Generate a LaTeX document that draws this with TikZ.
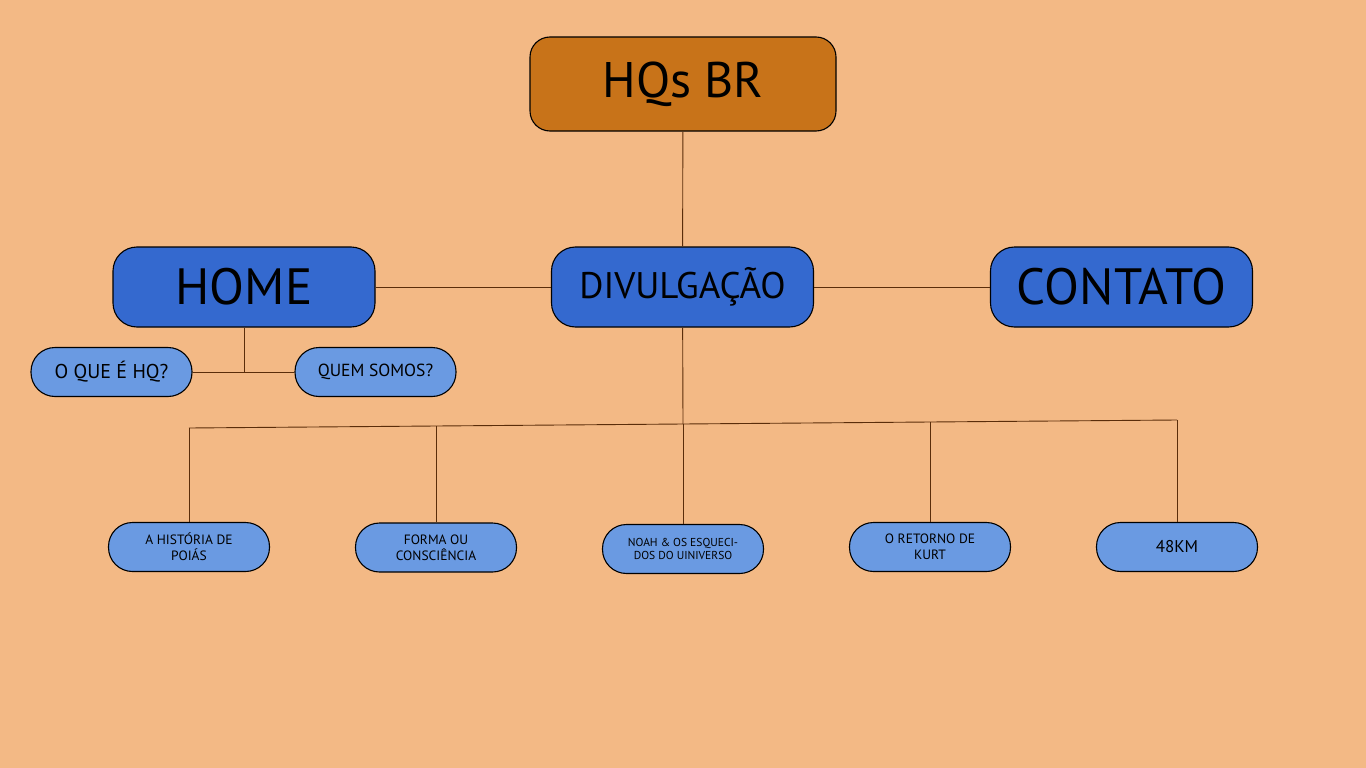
\documentclass[tikz,border=0pt]{standalone}
\usepackage{fontspec}
\setmainfont{PT Sans}
\usepackage{tikz}
\usetikzlibrary{calc}
\definecolor{bgorange}{HTML}{F3B985}
\definecolor{toporange}{HTML}{C87319}
\definecolor{darkblue}{HTML}{3469CF}
\definecolor{lightblue}{HTML}{6A9AE2}
\definecolor{linkbrown}{HTML}{5A2D0A}
\newcommand{\fs}[1]{\fontsize{#1}{1.2\dimexpr#1pt\relax}\selectfont}

\begin{document}
\begin{tikzpicture}[x=1pt, y=-1pt,
  box/.style={draw=black, line width=1.1pt, align=center, inner sep=0pt},
  root/.style={box, fill=toporange, rounded corners=20pt, minimum width=306pt, minimum height=94pt},
  menu/.style={box, fill=darkblue, rounded corners=24pt, minimum width=262pt, minimum height=80pt},
  sub/.style={box, fill=lightblue, rounded corners=24pt, minimum width=161pt, minimum height=49pt},
  link/.style={draw=linkbrown, line width=0.9pt}]
\fill[bgorange] (0,0) rectangle (1366,768);
\useasboundingbox (0,0) rectangle (1366,768);
\node[root, font=\fs{50}] (hqs)  at (683,84)     {HQs BR};
\node[menu, font=\fs{51}] (home) at (244,287)    {HOME};
\node[menu, font=\fs{37}] (div)  at (682.5,287)  {DIVULGAÇÃO};
\node[menu, font=\fs{51}] (cont) at (1121.5,287) {CONTATO};
\node[sub, font=\fs{20}]  (oque) at (111.5,372)  {O QUE É HQ?};
\node[sub, font=\fs{17.5}] (quem) at (375.5,372) {QUEM SOMOS?};
\node[sub, font=\fs{13.5}] (hist) at (189,547)   {A HISTÓRIA DE\\POIÁS};
\node[sub, font=\fs{13.5}] (forma) at (436,547.5) {FORMA OU\\CONSCIÊNCIA};
\node[sub, font=\fs{11.5}] (noah) at (683,549)   {NOAH \& OS ESQUECI-\\DOS DO UINIVERSO};
\node[sub, font=\fs{13.5}] (kurt) at (930,547)   {O RETORNO DE\\KURT};
\node[sub, font=\fs{17}]   (km)   at (1177,547)  {48KM};
% connectors
\coordinate (bl) at (189,428);
\coordinate (br) at (1177,420);
\coordinate (hj) at (home.south |- oque.east);
\draw[link] (hqs) -- (div);
\draw[link] (home) -- (div);
\draw[link] (div) -- (cont);
\draw[link] (home) -- (hj);
\draw[link] (oque) -- (quem);
\draw[link] (bl) -- (br);
\foreach \n/\t in {hist/0, forma/0.25, noah/0.5, kurt/0.75, km/1} {
  \coordinate (j-\n) at ($(bl)!\t!(br)$);
  \draw[link] (\n) -- (j-\n);
}
\draw[link] (div) -- (j-noah);
\end{tikzpicture}
\end{document}
